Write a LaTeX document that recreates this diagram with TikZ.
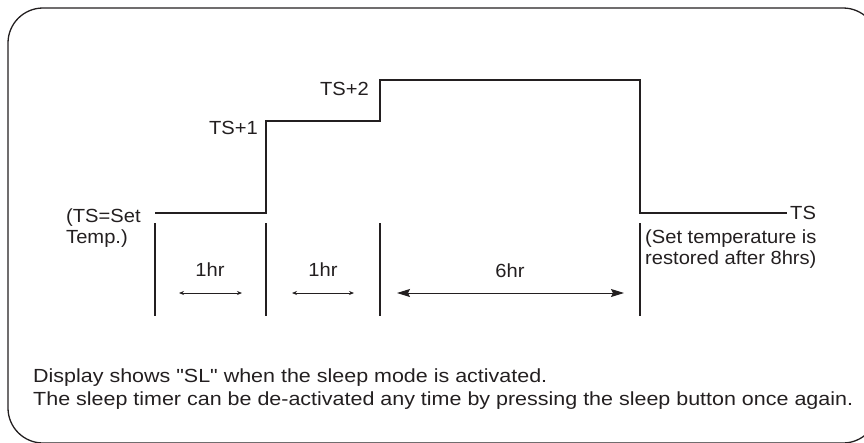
\documentclass[tikz,border=0pt]{standalone}
\usepackage{fontspec}
\setmainfont{Liberation Sans}[FakeStretch=1.06]
\newfontfamily\widefont{Liberation Sans}[FakeStretch=1.13]
\usepackage{xcolor}
\definecolor{ink}{HTML}{231F20}
\usetikzlibrary{arrows.meta, positioning}

\begin{document}
\begin{tikzpicture}[
  x=1pt, y=-1pt,
  font=\fontsize{19}{21}\selectfont,
  every node/.style={text=ink, inner sep=0pt},
  frame/.style={draw=ink, line width=1.3pt, rounded corners=35pt},
  stepline/.style={draw=ink, line width=1.4pt},
  divider/.style={draw=ink, line width=1.4pt},
  span/.style={{Stealth[length=5pt, width=4pt]}-{Stealth[length=5pt, width=4pt]}, line width=0.8pt, draw=ink},
  bigspan/.style={{Stealth[length=13pt, width=8pt, inset=2pt]}-{Stealth[length=13pt, width=8pt, inset=2pt]}, line width=1pt, draw=ink},
  note/.style={align=left, anchor=north west},
]
  \useasboundingbox (0,0) rectangle (864,442);
  \clip (0,0) rectangle (864,442);
  \draw[frame] (8,8) rectangle (878,443);

  \coordinate (s0) at (155,213);
  \coordinate (s1) at (266,213);
  \coordinate (s2) at (266,121);
  \coordinate (s3) at (380,121);
  \coordinate (s4) at (380,80);
  \coordinate (s5) at (640,80);
  \coordinate (s6) at (640,213);
  \coordinate (s7) at (787,213);
  \draw[stepline] (s0) -- (s1) -- (s2) -- (s3) -- (s4) -- (s5) -- (s6) -- (s7);

  \foreach \x/\n in {155/a, 266/b, 380/c, 640/d}
    \draw[divider] (\x,223) coordinate (\n top) -- (\x,316) coordinate (\n bot);

  \coordinate (h1l) at (179,293);
  \coordinate (h1r) at (242,293);
  \coordinate (h2l) at (292,293);
  \coordinate (h2r) at (354,293);
  \coordinate (h6l) at (397,293);
  \coordinate (h6r) at (624,293);
  \draw[span] (h1l) -- (h1r);
  \draw[span] (h2l) -- (h2r);
  \draw[bigspan] (h6l) -- (h6r);

  \node (hr1) at (210,270) {1hr};
  \node (hr2) at (323,270) {1hr};
  \node (hr6) at (510,271) {6hr};

  \node[anchor=base east] (ts1) at (258,134) {TS+1};
  \node[anchor=base east] (ts2) at (369,95) {TS+2};
  \node[anchor=west] (ts) at ([xshift=3pt]s7) {TS};

  \node[note] (settemp) at (66,209) {(TS=Set\\Temp.)};
  \node[note] (restored) at (645,230) {(Set temperature is\\restored after 8hrs)};

  \node[note, font=\widefont\fontsize{19}{23}\selectfont] (info) at (33,369) {Display shows \char34 SL\char34{} when the sleep mode is activated.\\The sleep timer can be de-activated any time by pressing the sleep button once again.};
\end{tikzpicture}
\end{document}
